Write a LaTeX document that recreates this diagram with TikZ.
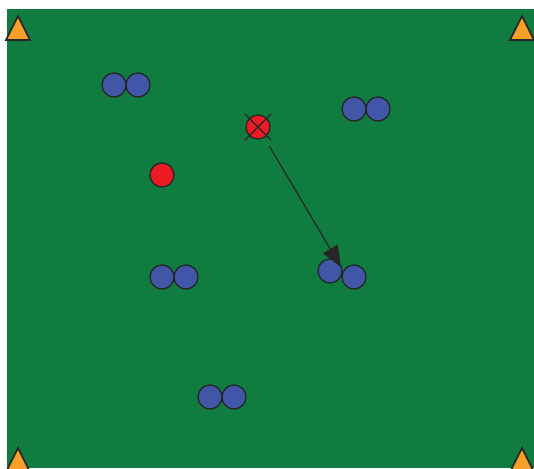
\documentclass[tikz,border=0pt]{standalone}
\usepackage{tikz}
\usetikzlibrary{positioning, calc, arrows.meta}

\definecolor{pitch}{RGB}{16,124,64}
\definecolor{teamblue}{RGB}{63,87,166}
\definecolor{teamred}{RGB}{237,28,36}
\definecolor{coneorange}{RGB}{247,160,40}

\tikzset{
  blueplayer/.style={circle, draw=black!85, line width=1.3pt, fill=teamblue, minimum size=24pt, inner sep=0pt},
  redplayer/.style={circle, draw=black!85, line width=1.3pt, fill=teamred, minimum size=24pt, inner sep=0pt},
  cone/.style={draw=black!85, line width=1.6pt, fill=coneorange, line join=miter}
}

\begin{document}
\begin{tikzpicture}[x=1pt, y=-1pt]
\useasboundingbox (0,0) rectangle (534,468);
\fill[pitch] (7,9) rectangle (534,468);

% cones in the corners
\filldraw[cone] (6,40) -- (18,16) -- (30,40) -- cycle;
\filldraw[cone] (510,40) -- (522,16) -- (534,40) -- cycle;
\filldraw[cone] (6,472) -- (18,448) -- (30,472) -- cycle;
\filldraw[cone] (510,472) -- (522,448) -- (534,472) -- cycle;

% blue pairs
\node[blueplayer] (b1) at (114,85) {};
\node[blueplayer] (b2) at (138,85) {};
\node[blueplayer] (b3) at (354,109) {};
\node[blueplayer] (b4) at (378,109) {};
\node[blueplayer] (b5) at (162,277) {};
\node[blueplayer] (b6) at (186,277) {};
\node[blueplayer] (b7) at (210,397) {};
\node[blueplayer] (b8) at (234,397) {};
\node[blueplayer] (b9) at (330,271) {};
\node[blueplayer] (b10) at (354,277) {};

% red players
\node[redplayer] (r1) at (162,175) {};
\node[redplayer] (r2) at (258,127) {};
\draw[line width=1.3pt, black!85] ($(r2)+(-13,-13)$) -- ($(r2)+(13,13)$);
\draw[line width=1.3pt, black!85] ($(r2)+(13,-13)$) -- ($(r2)+(-13,13)$);

% run
\coordinate (target) at (341,267);
\draw[line width=1.2pt, black!85, -{Triangle[length=21pt,width=17pt]}, shorten <=10pt] (r2) -- (target);
\end{tikzpicture}
\end{document}
